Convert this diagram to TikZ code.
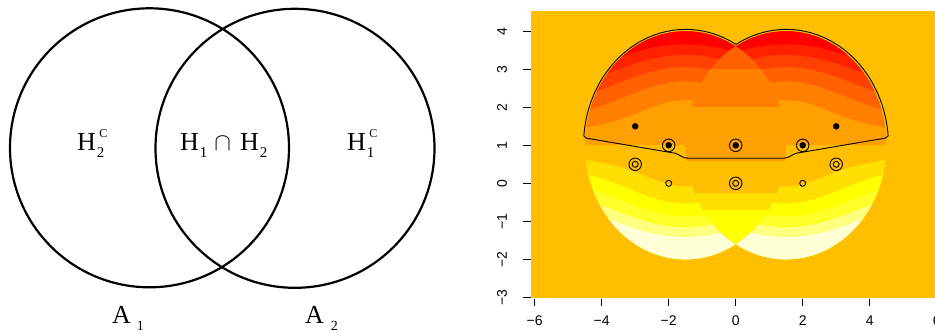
\documentclass[tikz,border=0pt]{standalone}
\usepackage{fontspec}
\setmainfont{Liberation Serif}
\newfontfamily\axisfont{Liberation Sans}
\definecolor{hc1}{HTML}{FF0000}
\definecolor{hc2}{HTML}{FF2000}
\definecolor{hc3}{HTML}{FF4000}
\definecolor{hc4}{HTML}{FF6000}
\definecolor{hc5}{HTML}{FF8000}
\definecolor{hc6}{HTML}{FF9F00}
\definecolor{hc7}{HTML}{FFBF00}
\definecolor{hc8}{HTML}{FFDF00}
\definecolor{hc9}{HTML}{FFFF00}
\definecolor{hc10}{HTML}{FFFF2A}
\definecolor{hc11}{HTML}{FFFF80}
\definecolor{hc12}{HTML}{FFFFD5}
\newcommand{\paintlobe}[1]{%
  \begin{scope}
    \clip (#1,1) circle[radius=3];
    \fill[hc7] (#1,1) circle[radius=3];
    \fill[hc6] (#1-4,1) rectangle (#1+4,5);
    \foreach \kk/\cc in {5/hc5,4/hc4,3/hc3,2/hc2,1/hc1}{
      \pgfmathsetmacro\tv{8.5*(1-\kk/6)}
      \pgfmathsetmacro\aMin{asin(\tv/25)}
      \pgfmathsetmacro\aMax{180-\aMin}
      \fill[\cc] plot[domain=\aMin:\aMax,samples=90] ({#1+sqrt(\tv/sin(\x))*cos(\x)},{1+sqrt(\tv/sin(\x))*sin(\x)}) arc[start angle=\aMax,end angle=\aMin,radius=5] -- cycle;
    }
    \foreach \kk/\cc in {8/hc8,9/hc9,10/hc10,11/hc11,12/hc12}{
      \pgfmathsetmacro\sv{7*(\kk-7)/6}
      \pgfmathsetmacro\aMin{180+asin(\sv/25)}
      \pgfmathsetmacro\aMax{360-asin(\sv/25)}
      \fill[\cc] plot[domain=\aMin:\aMax,samples=90] ({#1+sqrt(-\sv/sin(\x))*cos(\x)},{1+sqrt(-\sv/sin(\x))*sin(\x)}) arc[start angle=\aMax,end angle=\aMin,radius=5] -- cycle;
    }
  \end{scope}}
\newcommand{\bigsz}{\fontsize{26}{26}\selectfont}
\newcommand{\subsz}[1]{\raisebox{-7pt}{\fontsize{15}{15}\selectfont #1}}
\newcommand{\supC}{\rlap{\kern2.5pt\raisebox{13pt}{\fontsize{12}{12}\selectfont C}}}
\begin{document}
\begin{tikzpicture}[x=1pt,y=-1pt,
  venn/.style={circle,draw,line width=2.2pt,minimum size=279pt,inner sep=0pt},
  lbl/.style={anchor=base west,inner sep=0pt},
  tickm/.style={line width=1.3pt},
  ticklbl/.style={font=\axisfont\fontsize{14}{14}\selectfont,inner sep=0pt},
  contour/.style={line width=0.9pt,black},
  dotm/.style={circle,fill=black,inner sep=0pt,minimum size=6.5pt},
  ringm/.style={circle,draw=black,line width=0.9pt,inner sep=0pt,minimum size=12.5pt},
  smallm/.style={circle,draw=black,line width=0.9pt,inner sep=0pt,minimum size=6pt}]
\useasboundingbox (0,0) rectangle (935,333);
% ---------- Venn diagram ----------
\node[venn] (A1) at (149.5,147.8) {};
\node[venn] (A2) at (295,148.3) {};
\node[lbl] (h2c) at (77,150) {\bigsz H\kern1pt\supC\subsz{2}};
\node[lbl] (h12) at (180,150) {\bigsz H\kern1pt\subsz{1}\kern7pt$\cap$\kern9pt H\kern1pt\subsz{2}};
\node[lbl] (h1c) at (347,150) {\bigsz H\kern1pt\supC\subsz{1}};
\node[lbl] (a1) at (112,323) {\bigsz A\kern6pt\raisebox{-7pt}{\fontsize{14}{14}\selectfont 1}};
\node[lbl] (a2) at (305,323) {\bigsz A\kern7pt\raisebox{-7pt}{\fontsize{14}{14}\selectfont 2}};
% ---------- heat map ----------
\begin{scope}[shift={(735.7,183.3)},x=33.5pt,y=38pt]
  \fill[hc7] (-6.11,-3.02) rectangle (6.2,4.534);
  \paintlobe{-1.5}
  \paintlobe{1.5}
  \begin{scope}
    \clip (-1.5,1) circle[radius=3];
    \clip (1.5,1) circle[radius=3];
    \fill[hc7] (-2,-3) rectangle (2,5);
    \fill[hc6] (-2,0.6) rectangle (2,2);
    \fill[hc5] (-2,2) rectangle (2,3);
    \fill[hc4] (-2,3) rectangle (2,5);
    \fill[hc8] (-2,-0.26) rectangle (2,-0.7);
    \fill[hc9] (-2,-0.7) rectangle (2,-3);
  \end{scope}
  % contour line
  \draw[contour] (4.55,1.25) arc[start angle=4.7,end angle=119.5,radius=3.05]
     arc[start angle=60.5,end angle=175.3,radius=3.05]
     -- (-4.47,1.19) -- (-1.8,0.79) to[out=-20,in=180] (-1.42,0.66) -- (1.42,0.66)
     to[out=0,in=200] (1.8,0.79) -- (4.47,1.19) -- cycle;
  % markers
  \node[dotm] (d1) at (-3,1.5) {};
  \node[dotm] (d2) at (3,1.5) {};
  \foreach \px/\nm in {-2/r1,0/r2,2/r3}{
    \node[ringm] (\nm) at (\px,1) {};
    \node[dotm] (\nm c) at (\px,1) {};
  }
  \foreach \px/\py/\nm in {-3/0.5/q1,3/0.5/q2,0/0/q3}{
    \node[ringm] (\nm) at (\px,\py) {};
    \node[smallm] (\nm c) at (\px,\py) {};
  }
  \node[smallm] (s1) at (-2,0) {};
  \node[smallm] (s2) at (2,0) {};
  % axes
  \foreach \yy in {-3,...,4}{
    \draw[tickm] (-6.349,\yy) -- (-6.11,\yy);
    \node[ticklbl,rotate=90] (yl\yy) at (-6.976,\yy) {\ifnum\yy<0 −\number-\yy\else\yy\fi};
  }
  \foreach \xx in {-6,-4,...,6}{
    \draw[tickm] (\xx,-3.045) -- (\xx,-3.229);
    \node[ticklbl] (xl\xx) at (\xx,-3.624) {\ifnum\xx<0 −\number-\xx\else\xx\fi};
  }
\end{scope}
\end{tikzpicture}
\end{document}
